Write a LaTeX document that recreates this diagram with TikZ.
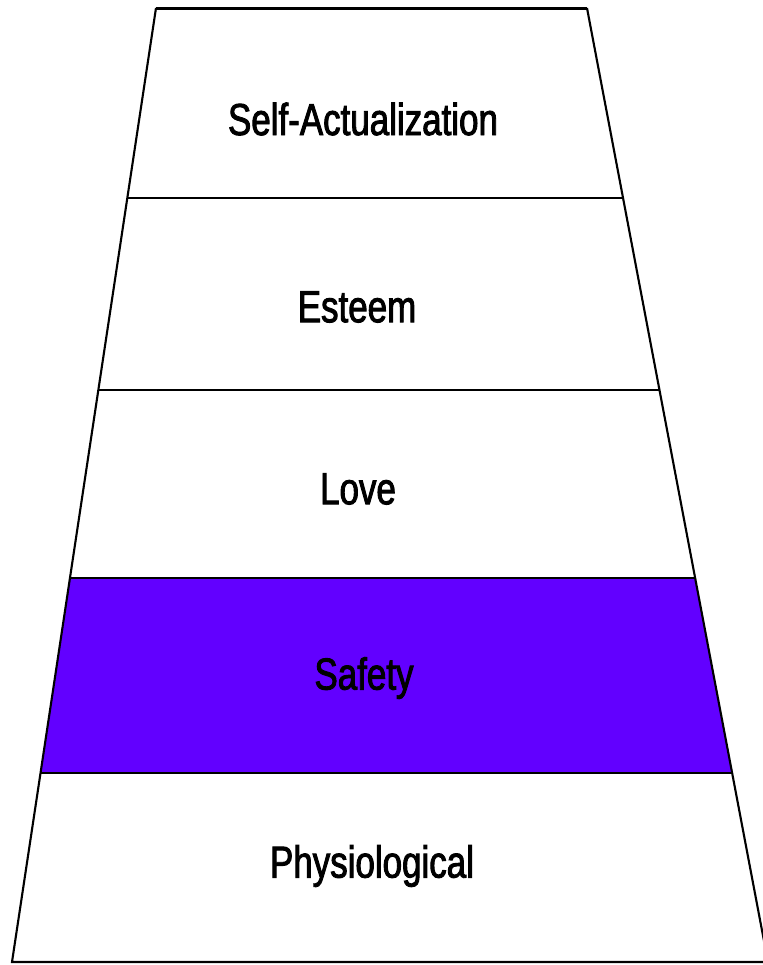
\documentclass[tikz,border=0pt]{standalone}
\usepackage{fontspec}
\usetikzlibrary{calc}
\newfontfamily\levelfont[FakeStretch=0.78, FakeBold=2]{Liberation Sans}
\definecolor{safetyviolet}{RGB}{98,0,255}
\begin{document}
\begin{tikzpicture}[x=0.02cm, y=-0.02cm]
    \useasboundingbox (0,0) rectangle (762,965);
    \tikzset{level/.style={font=\levelfont\fontsize{25.5}{25.5}\selectfont, inner sep=0pt}}

    % outer corners
    \coordinate (tl) at (156,8);
    \coordinate (tr) at (587,8);
    \coordinate (bl) at (12,962);
    \coordinate (br) at (768,962);
    % band borders on the sides
    \foreach \i/\t in {1/0.199, 2/0.4004, 3/0.5975, 4/0.8019} {
        \coordinate (l\i) at ($(tl)!\t!(bl)$);
        \coordinate (r\i) at ($(tr)!\t!(br)$);
    }

    \fill[safetyviolet] (l3) -- (r3) -- (r4) -- (l4) -- cycle;
    \draw[line width=1.7pt] (tl) -- (tr);
    \draw[line width=1.2pt] (tl) -- (bl) -- (br);
    \draw[line width=1.2pt] (tr) -- (br);
    \foreach \i in {1,...,4}
        \draw[line width=1.2pt] (l\i) -- (r\i);

    \node[level] (selfact) at (363,119) {Self-Actualization};
    \node[level] (esteem) at (357,307) {Esteem};
    \node[level] (love) at (358,489) {Love};
    \node[level] (safety) at (364,678) {Safety};
    \node[level] (physio) at (372,866) {Physiological};
\end{tikzpicture}
\end{document}
